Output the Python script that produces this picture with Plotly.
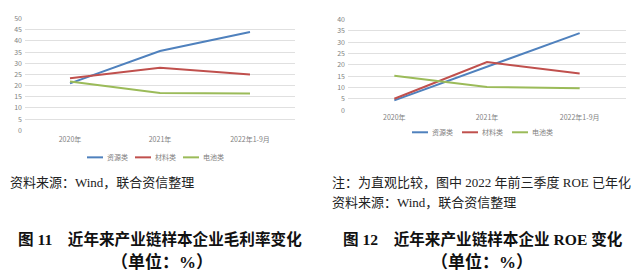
import plotly.graph_objects as go

categories = ["2020年", "2021年", "2022年1-9月"]
series_names = ["资源类", "材料类", "电池类"]
colors = ["#4F81BD", "#C0504D", "#9BBB59"]

# Figure 11: gross margin (%)
gm_resource = [21.0, 35.5, 44.0]
gm_material = [23.3, 28.0, 25.0]
gm_battery = [21.8, 16.7, 16.5]

# Figure 12: ROE (%)
roe_resource = [4.3, 19.0, 34.0]
roe_material = [5.0, 21.2, 16.2]
roe_battery = [15.2, 10.2, 9.7]

W, H = 640, 278
def px_x(x):
    return x / W
def px_y(y):
    return 1 - y / H

fig = go.Figure()
for name, vals, c in zip(series_names, [gm_resource, gm_material, gm_battery], colors):
    fig.add_trace(go.Scatter(x=categories, y=vals, name=name, mode="lines",
                             line=dict(color=c, width=2), xaxis="x", yaxis="y"))
for name, vals, c in zip(series_names, [roe_resource, roe_material, roe_battery], colors):
    fig.add_trace(go.Scatter(x=categories, y=vals, name=name, mode="lines",
                             line=dict(color=c, width=2), xaxis="x2", yaxis="y2"))

tickfont = dict(family="Noto Sans CJK SC, Noto Sans", size=7, color="#7f7f7f")
grid = "#e0e0e0"

fig.update_layout(
    width=W, height=H,
    margin=dict(l=0, r=0, t=0, b=0),
    paper_bgcolor="white", plot_bgcolor="white",
    showlegend=False,
    xaxis=dict(domain=[px_x(25), px_x(295)], type="category", range=[-0.5, 2.5],
               showgrid=False, showline=False, zeroline=False, ticks="",
               tickfont=tickfont, anchor="y", ticklabelstandoff=4),
    yaxis=dict(domain=[px_y(129), px_y(13)], range=[0, 50], dtick=5,
               showgrid=True, gridcolor=grid, gridwidth=1, zeroline=False,
               showline=False, tickfont=tickfont, anchor="x", ticklabelstandoff=2),
    xaxis2=dict(domain=[px_x(348), px_x(626)], type="category", range=[-0.5, 2.5],
                showgrid=False, showline=False, zeroline=False, ticks="",
                tickfont=tickfont, anchor="y2", ticklabelstandoff=2),
    yaxis2=dict(domain=[px_y(108), px_y(14)], range=[0, 40], dtick=5,
                showgrid=True, gridcolor=grid, gridwidth=1, zeroline=False,
                showline=False, tickfont=tickfont, anchor="x2", ticklabelstandoff=2),
)

# custom legends (sample line + label), one per chart
legend_layout = [
    dict(x0=87, step=48, y=157),   # figure 11
    dict(x0=412, step=50, y=131),  # figure 12
]
shapes = []
annos = []
for lg in legend_layout:
    for i, (name, c) in enumerate(zip(series_names, colors)):
        sx = lg["x0"] + i * lg["step"]
        shapes.append(dict(type="line", xref="paper", yref="paper",
                           x0=px_x(sx), x1=px_x(sx + 16), y0=px_y(lg["y"]), y1=px_y(lg["y"]),
                           line=dict(color=c, width=2)))
        annos.append(dict(text=name, x=px_x(sx + 18), y=px_y(lg["y"]),
                          xanchor="left", yanchor="middle", font=tickfont))

cap_font = dict(family="Liberation Serif, Noto Sans CJK SC", size=13, color="#222222")
title_font = dict(family="Liberation Serif, Noto Sans CJK SC", size=15.6, color="#111111")
sub_font = dict(family="Liberation Serif, Noto Sans CJK SC", size=17, color="#111111")

annos += [
    dict(text="资料来源：Wind，联合资信整理", x=px_x(8), y=px_y(183), xanchor="left", yanchor="middle", font=cap_font),
    dict(text="注：为直观比较，图中 2022 年前三季度 ROE 已年化", x=px_x(330), y=px_y(183), xanchor="left", yanchor="middle", font=cap_font),
    dict(text="资料来源：Wind，联合资信整理", x=px_x(330), y=px_y(204), xanchor="left", yanchor="middle", font=cap_font),
    dict(text="<b>图 11　近年来产业链样本企业毛利率变化</b>", x=px_x(160), y=px_y(242), xanchor="center", yanchor="middle", font=title_font),
    dict(text="<b>（单位：%）</b>", x=px_x(162), y=px_y(266), xanchor="center", yanchor="middle", font=sub_font),
    dict(text="<b>图 12　近年来产业链样本企业 ROE 变化</b>", x=px_x(483), y=px_y(242), xanchor="center", yanchor="middle", font=title_font),
    dict(text="<b>（单位：%）</b>", x=px_x(482), y=px_y(266), xanchor="center", yanchor="middle", font=sub_font),
]
for a in annos:
    a.update(xref="paper", yref="paper", showarrow=False)
fig.update_layout(annotations=annos, shapes=shapes)

fig.write_html("out.html")
